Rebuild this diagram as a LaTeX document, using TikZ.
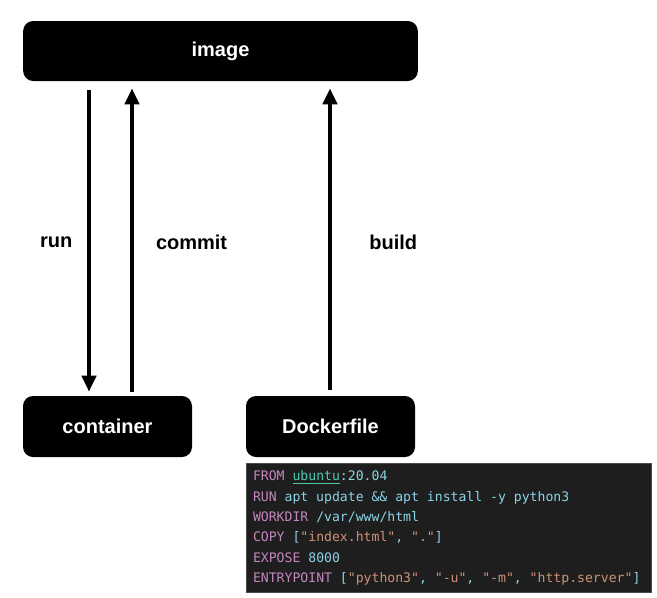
\documentclass[tikz,border=0pt]{standalone}
\usepackage{fontspec}
\setmainfont{Liberation Sans}
\setmonofont{DejaVu Sans Mono}
\usetikzlibrary{positioning,arrows.meta,calc}
\definecolor{panel}{HTML}{1E1E1E}
\definecolor{frame}{HTML}{4A4A4A}
\definecolor{keyword}{HTML}{C586C0}
\definecolor{plain}{HTML}{8CD3E6}
\definecolor{string}{HTML}{CE9178}
\definecolor{imgname}{HTML}{4EC9B0}
\newcommand{\dkey}[1]{\textcolor{keyword}{#1}}
\newcommand{\dstr}[1]{\textcolor{string}{#1}}
\newcommand{\dimg}[1]{\textcolor{imgname}{\underline{#1}}}

\begin{document}
\begin{tikzpicture}[x=0.75pt,y=-0.75pt,
  box/.style={fill=black,text=white,rounded corners=7.5pt,font=\bfseries\fontsize{15}{18}\selectfont},
  flow/.style={-{Triangle[width=10.5pt,length=12pt]},line width=3pt},
  lbl/.style={inner sep=0pt,yshift=-3pt,font=\bfseries\fontsize{15}{18}\selectfont}]
\useasboundingbox (0,0) rectangle (657,597);
\node[box,minimum width=296pt,minimum height=45pt] (image) at (220.5,51){image};
\node[box,minimum width=126.75pt,minimum height=45.75pt] (container) at (107.5,426.5){container};
\node[box,minimum width=126.75pt,minimum height=45.75pt] (dockerfile) at (330.5,426.5){Dockerfile};
\node[fill=panel,draw=frame,line width=0.4pt,text=plain,below right=4.5pt and 0pt of dockerfile.south west,
  minimum width=303.75pt,minimum height=96.75pt,text width=293.25pt,inner xsep=5.25pt,align=left,
  font=\ttfamily\fontsize{9.85}{15.2}\selectfont] (code){\spaceskip=0.602em\relax
\dkey{FROM} \dimg{ubuntu}:20.04\\
\dkey{RUN} apt update \&\& apt install -y python3\\
\dkey{WORKDIR} /var/www/html\\
\dkey{COPY} [\dstr{"index.html"}, \dstr{"."}]\\
\dkey{EXPOSE} 8000\\
\dkey{ENTRYPOINT} [\dstr{"python3"}, \dstr{"-u"}, \dstr{"-m"}, \dstr{"http.server"}]};
% arrow columns
\coordinate (runx) at (89,0);
\coordinate (commitx) at (132,0);
\coordinate (buildx) at (330,0);
\draw[flow,shorten <=6.75pt,shorten >=3pt] (image.south -| runx) -- node[lbl,left=11pt]{run} (container.north -| runx);
\draw[flow,shorten <=3pt,shorten >=5.25pt] (container.north -| commitx) -- node[lbl,right=16.5pt]{commit} (image.south -| commitx);
\draw[flow,shorten <=4.5pt,shorten >=5.25pt] (dockerfile.north -| buildx) -- node[lbl,right=28pt]{build} (image.south -| buildx);
\end{tikzpicture}
\end{document}
